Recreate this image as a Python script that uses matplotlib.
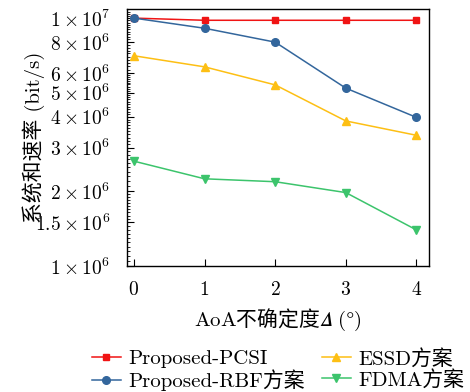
import numpy as np
import matplotlib
matplotlib.use('Agg')
import matplotlib.pyplot as plt
from matplotlib.ticker import FixedLocator, NullFormatter

plt.rcParams['mathtext.fontset'] = 'cm'
plt.rcParams['font.family'] = ['cmr10', 'Noto Sans CJK SC']
plt.rcParams['axes.unicode_minus'] = False

# data
delta = [0, 1, 2, 3, 4]
pcsi = [1.0e7, 9.8e6, 9.8e6, 9.8e6, 9.8e6]
rbf = [1.0e7, 9.1e6, 8.0e6, 5.22e6, 3.98e6]
essd = [7.05e6, 6.36e6, 5.38e6, 3.85e6, 3.37e6]
fdma = [2.65e6, 2.25e6, 2.19e6, 1.98e6, 1.40e6]

names = ['Proposed-PCSI', 'Proposed-RBF方案', 'ESSD方案', 'FDMA方案']
yticks = [1e6, 1.5e6, 2e6, 3e6, 4e6, 5e6, 6e6, 8e6, 1e7]
ytick_labels = [r'$1\times10^{6}$', r'$1.5\times10^{6}$', r'$2\times10^{6}$',
                r'$3\times10^{6}$', r'$4\times10^{6}$', r'$5\times10^{6}$',
                r'$6\times10^{6}$', r'$8\times10^{6}$', r'$1\times10^{7}$']

fig = plt.figure(figsize=(4.7, 3.92), dpi=100)
ax = fig.add_axes([0.270, 0.321, 0.643, 0.656])

ax.plot(delta, pcsi, color='#f01414', marker='s', ms=4.5, lw=1.1, label=names[0])
ax.plot(delta, rbf, color='#33669c', marker='o', ms=5.5, lw=1.1, label=names[1])
ax.plot(delta, essd, color='#fdbf14', marker='^', ms=6, lw=1.1, label=names[2])
ax.plot(delta, fdma, color='#3cc46c', marker='v', ms=6, lw=1.1, label=names[3])

ax.set_yscale('log')
ax.set_ylim(1e6, 1.088e7)
ax.set_xlim(-0.1, 4.18)

ax.set_yticks(yticks)
ax.set_yticklabels(ytick_labels)
minor = list(np.arange(1.05e6, 2e6, 5e4)) + list(np.arange(2.1e6, 6e6, 1e5)) \
    + list(np.arange(6.2e6, 1.08e7, 2e5))
ax.yaxis.set_minor_locator(FixedLocator(minor))
ax.yaxis.set_minor_formatter(NullFormatter())
ax.set_xticks(delta)
ax.set_xticklabels(['$%d$' % d for d in delta])

ax.tick_params(axis='both', which='major', direction='in', length=5, width=0.8,
               labelsize=14, top=False, right=False)
ax.tick_params(axis='y', which='minor', direction='in', length=2.5, width=0.6, right=False)
ax.tick_params(axis='x', pad=11)
ax.tick_params(axis='y', pad=12)
for s in ax.spines.values():
    s.set_linewidth(1.0)

# mathtext for latin parts, CJK from the text's own family
ax.set_xlabel(r'$\mathrm{AoA}$不确定度$𝛥\ (\degree)$', fontsize=15,
              family='Noto Sans CJK SC', labelpad=5)
ax.set_ylabel('系统和速率 (bit/s)', fontsize=15)
ax.yaxis.set_label_coords(-0.27, 0.5)

ax.legend(loc='upper center', bbox_to_anchor=(0.5, -0.32), ncol=2, frameon=False,
          fontsize=15, handlelength=1.4, columnspacing=0.8, labelspacing=0.05,
          handletextpad=0.35, borderaxespad=0, borderpad=0)

fig.savefig('out.png', dpi=100)
